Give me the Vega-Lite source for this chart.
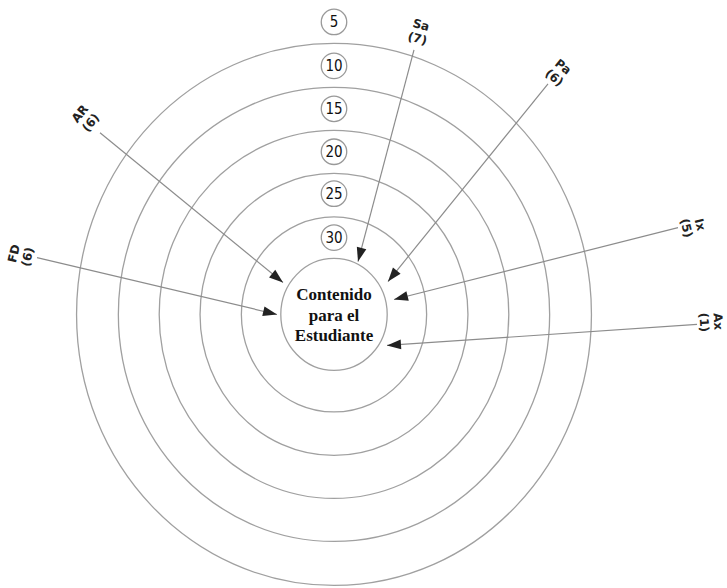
{
  "$schema": "https://vega.github.io/schema/vega-lite/v6.json",
  "width": 727,
  "height": 588,
  "autosize": {"type": "fit", "contains": "padding"},
  "padding": 0,
  "background": "white",
  "config": {"view": {"stroke": null}},
  "datasets": {
    "rings": [
      {"ring": "outer", "r": 271},
      {"ring": "2", "r": 227},
      {"ring": "3", "r": 184},
      {"ring": "4", "r": 141},
      {"ring": "5", "r": 97.5},
      {"ring": "center", "r": 56}
    ],
    "arrows": [
      {"label": "Sa\n(7)", "lx": 87, "ly": 290, "sx": 80, "sy": 265, "tx": 24, "ty": 53, "heading": 194.8},
      {"label": "Pa\n(6)", "lx": 229, "ly": 248, "sx": 214, "sy": 231, "tx": 54, "ty": 33, "heading": 218.8},
      {"label": "AR\n(6)", "lx": -254, "ly": 201, "sx": -234, "sy": 182, "tx": -51, "ty": 32, "heading": 129.3},
      {"label": "FD\n(6)", "lx": -320, "ly": 61, "sx": -297, "sy": 57, "tx": -57, "ty": 0, "heading": 103.4},
      {"label": "Ix\n(5)", "lx": 366, "ly": 90, "sx": 344, "sy": 87, "tx": 60, "ty": 15, "heading": 255.8},
      {"label": "Ax\n(1)", "lx": 384, "ly": -7, "sx": 363, "sy": -10, "tx": 53, "ty": -31, "heading": 266.1}
    ],
    "bands": [
      {"minutes": "5", "y": 293},
      {"minutes": "10", "y": 249},
      {"minutes": "15", "y": 206},
      {"minutes": "20", "y": 163},
      {"minutes": "25", "y": 121},
      {"minutes": "30", "y": 77}
    ],
    "center": [
      {"text": "Contenido\npara el\nEstudiante"}
    ]
  },
  "encoding": {
    "x": {"type": "quantitative", "scale": {"domain": [-334, 393], "nice": false, "zero": false}, "axis": null},
    "y": {"type": "quantitative", "scale": {"domain": [-273, 315], "nice": false, "zero": false}, "axis": null}
  },
  "layer": [
    {
      "data": {"name": "rings"},
      "mark": {"type": "point", "shape": "M -0.95,0 A 0.95,1 0 1,0 0.95,0 A 0.95,1 0 1,0 -0.95,0 Z", "filled": false, "stroke": "#a0a0a0", "strokeWidth": 1.3, "opacity": 1},
      "encoding": {
        "x": {"datum": 0},
        "y": {"datum": 0},
        "size": {"field": "r", "type": "quantitative", "scale": {"type": "pow", "exponent": 2, "domain": [0, 300], "range": [0, 360000]}, "legend": null}
      }
    },
    {
      "data": {"name": "arrows"},
      "mark": {"type": "rule", "stroke": "#8c8c8c", "strokeWidth": 1.2},
      "encoding": {
        "x": {"field": "sx", "type": "quantitative"},
        "y": {"field": "sy", "type": "quantitative"},
        "x2": {"field": "tx"},
        "y2": {"field": "ty"}
      }
    },
    {
      "data": {"name": "arrows"},
      "mark": {"type": "point", "shape": "M 0,0 L 0.7,2 L -0.7,2 Z", "filled": true, "fill": "#222222", "size": 196, "opacity": 1, "strokeWidth": 0},
      "encoding": {
        "x": {"field": "tx", "type": "quantitative"},
        "y": {"field": "ty", "type": "quantitative"},
        "angle": {"field": "heading", "type": "quantitative", "scale": {"domain": [0, 360], "range": [0, 360]}}
      }
    },
    {
      "data": {"name": "arrows"},
      "mark": {"type": "text", "font": "DejaVu Sans", "fontSize": 12, "fontWeight": "bold", "fill": "#222222", "align": "center", "baseline": "middle", "lineBreak": "\n", "lineHeight": 14},
      "encoding": {
        "x": {"field": "lx", "type": "quantitative"},
        "y": {"field": "ly", "type": "quantitative"},
        "text": {"field": "label", "type": "nominal"},
        "angle": {"field": "heading", "type": "quantitative", "scale": {"domain": [0, 360], "range": [-180, 180]}}
      }
    },
    {
      "data": {"name": "bands"},
      "mark": {"type": "point", "shape": "circle", "filled": true, "fill": "white", "stroke": "#999999", "strokeWidth": 1.3, "size": 650, "opacity": 1},
      "encoding": {
        "x": {"datum": 0},
        "y": {"field": "y", "type": "quantitative"}
      }
    },
    {
      "data": {"name": "bands"},
      "mark": {"type": "text", "font": "Liberation Sans Narrow, DejaVu Sans Condensed, Liberation Sans", "fontSize": 15, "fill": "#111111", "align": "center", "baseline": "middle"},
      "encoding": {
        "x": {"datum": 0},
        "y": {"field": "y", "type": "quantitative"},
        "text": {"field": "minutes", "type": "nominal"}
      }
    },
    {
      "data": {"name": "center"},
      "mark": {"type": "text", "font": "Liberation Serif", "fontSize": 17, "fontWeight": "bold", "fill": "#111111", "align": "center", "baseline": "middle", "lineBreak": "\n", "lineHeight": 20.5},
      "encoding": {
        "x": {"datum": 0},
        "y": {"datum": 19},
        "text": {"field": "text", "type": "nominal"}
      }
    }
  ],
  "resolve": {"scale": {"angle": "independent", "size": "independent"}}
}
